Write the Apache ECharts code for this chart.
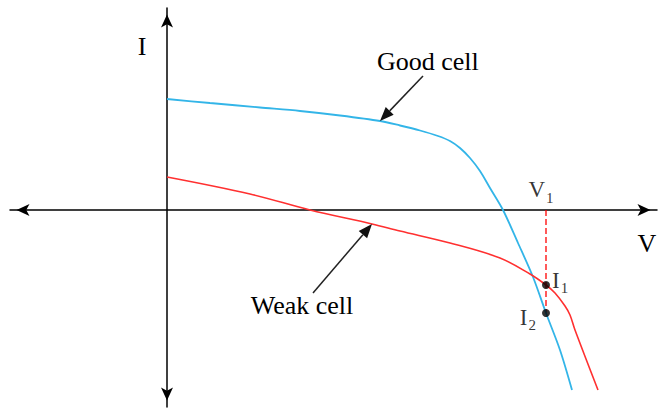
<!DOCTYPE html>
<html>
<head>
<meta charset="utf-8">
<script src="https://cdn.jsdelivr.net/npm/echarts@6/dist/echarts.min.js"></script>
<style>
  html, body { margin: 0; padding: 0; background: #fff; }
  #chart { width: 658px; height: 409px; }
</style>
</head>
<body>
<div id="chart"></div>
<script>
// I–V characteristics in arbitrary units (voltage to the right, current upward)
const goodCell = [[0, 11.1], [4.3, 10.7], [9.3, 10.25], [13.3, 9.9], [17.3, 9.45], [21.3, 8.9], [23.3, 8.45],
  [25.3, 7.95], [27.1, 7.4], [28.3, 6.9], [29.3, 6.2], [30.3, 5.2], [31.3, 3.9], [32.3, 2.2], [33.6, 0],
  [35.1, -3.3], [36.6, -6.7], [37.9, -10.3], [39.3, -14.0], [40.5, -18.0]];
const weakCell = [[0, 3.3], [8.3, 1.6], [14.3, 0], [20.5, -1.4], [23.3, -2.1], [28.3, -3.3], [33.3, -4.8],
  [36.3, -6.4], [37.9, -7.5], [38.8, -8.3], [39.8, -9.6], [40.3, -10.5], [40.8, -12.0], [43.1, -18.0]];

// operating point: common voltage V1 and the two cell currents
const v1 = 37.9;
const i1 = -7.5;
const i2 = -10.3;

const axisLabels = ['V', 'I'];
const cellNames = ['Good cell', 'Weak cell'];
// which curve point each name arrow points to
const arrowTargets = [goodCell[5], weakCell[3]];

const SERIF = "'Liberation Serif', 'Times New Roman', serif";

const chart = echarts.init(document.getElementById('chart'), null, { renderer: 'svg' });

function arrowAxis(min, max) {
  return {
    type: 'value', min: min, max: max,
    axisLine: {
      show: true, onZero: true,
      symbol: ['arrow', 'arrow'], symbolSize: [9, 13], symbolOffset: [6.5, -6.5],
      lineStyle: { color: '#000', width: 1.5 }
    },
    axisTick: { show: false }, axisLabel: { show: false }, splitLine: { show: false }
  };
}

const subRich = {
  m: { fontFamily: SERIF, fontSize: 23, color: '#000', lineHeight: 23, verticalAlign: 'top' },
  s: { fontFamily: SERIF, fontSize: 15, color: '#000', padding: [12, 0, 0, 1], verticalAlign: 'top' }
};
const subLabel = (pos, dist, offset, text) => ({
  show: true, position: pos, distance: dist, offset: offset, formatter: text,
  color: '#000', fontFamily: SERIF, fontSize: 23, rich: subRich
});

chart.setOption({
  animation: false,
  grid: { left: 10, right: 1, top: 8, bottom: 2 },
  xAxis: arrowAxis(-15.7, 49),
  yAxis: arrowAxis(-19.7, 20.2),
  series: [
    {
      name: cellNames[0], type: 'line', data: goodCell, smooth: 0.3, symbol: 'none',
      lineStyle: { color: '#33b5e8', width: 1.8 }, z: 3
    },
    {
      name: cellNames[1], type: 'line', data: weakCell, smooth: 0.35, symbol: 'none',
      lineStyle: { color: '#ff3030', width: 1.6 }, z: 3
    },
    {
      name: 'V1 line', type: 'line', data: [[v1, 0], [v1, i2]], symbol: 'none',
      lineStyle: { color: '#ff0000', width: 1.3, type: [6, 3] }, z: 2
    },
    {
      name: 'points', type: 'scatter', z: 5,
      itemStyle: { color: '#000' },
      data: [
        { value: [v1, 0], symbolSize: 0, label: subLabel('top', 5, [-5, 0], '{m|V}{s|1}') },
        { value: [v1, i1], symbolSize: 8, label: subLabel('right', 2, [0, -3], '{m|I}{s|1}') },
        { value: [v1, i2], symbolSize: 8, label: subLabel('left', 6, [0, 6], '{m|I}{s|2}') }
      ]
    }
  ]
});

// Axis names and the arrows naming each curve, placed from converted data positions
const origin = chart.convertToPixel({ gridIndex: 0 }, [0, 0]);
const gridRect = chart.getModel().getComponent('grid').coordinateSystem.getRect();

function arrow(tail, tip) {
  const dx = tip[0] - tail[0], dy = tip[1] - tail[1];
  const len = Math.hypot(dx, dy), ux = dx / len, uy = dy / len;
  const headLen = 14, headHalf = 5.5;
  const base = [tip[0] - ux * headLen, tip[1] - uy * headLen];
  return [
    { type: 'line', shape: { x1: tail[0], y1: tail[1], x2: base[0], y2: base[1] },
      style: { stroke: '#222', lineWidth: 1.5 }, z: 10 },
    { type: 'polygon', shape: { points: [tip,
        [base[0] - uy * headHalf, base[1] + ux * headHalf],
        [base[0] + uy * headHalf, base[1] - ux * headHalf]] },
      style: { fill: '#111' }, z: 10 }
  ];
}

const goodTip = chart.convertToPixel({ gridIndex: 0 }, arrowTargets[0]);
const weakTip = chart.convertToPixel({ gridIndex: 0 }, arrowTargets[1]);
const goodTail = [goodTip[0] + 43, goodTip[1] - 45];
const weakTail = [weakTip[0] - 59, weakTip[1] + 69];

const textStyle = (txt, x, y, align) => ({
  type: 'text', x: x, y: y, z: 10,
  style: { text: txt, font: '26px ' + SERIF, fill: '#000', textAlign: align, textVerticalAlign: 'middle' }
});

chart.setOption({
  graphic: [
    textStyle(axisLabels[1], origin[0] - 25, gridRect.y + 38, 'center'),
    textStyle(axisLabels[0], gridRect.x + gridRect.width - 10, origin[1] + 33, 'center'),
    textStyle(cellNames[0], goodTail[0] - 46, goodTail[1] - 15, 'left'),
    textStyle(cellNames[1], weakTail[0] - 11, weakTail[1] + 12, 'center'),
    ...arrow(goodTail, goodTip),
    ...arrow(weakTail, weakTip)
  ]
});
</script>
</body>
</html>
